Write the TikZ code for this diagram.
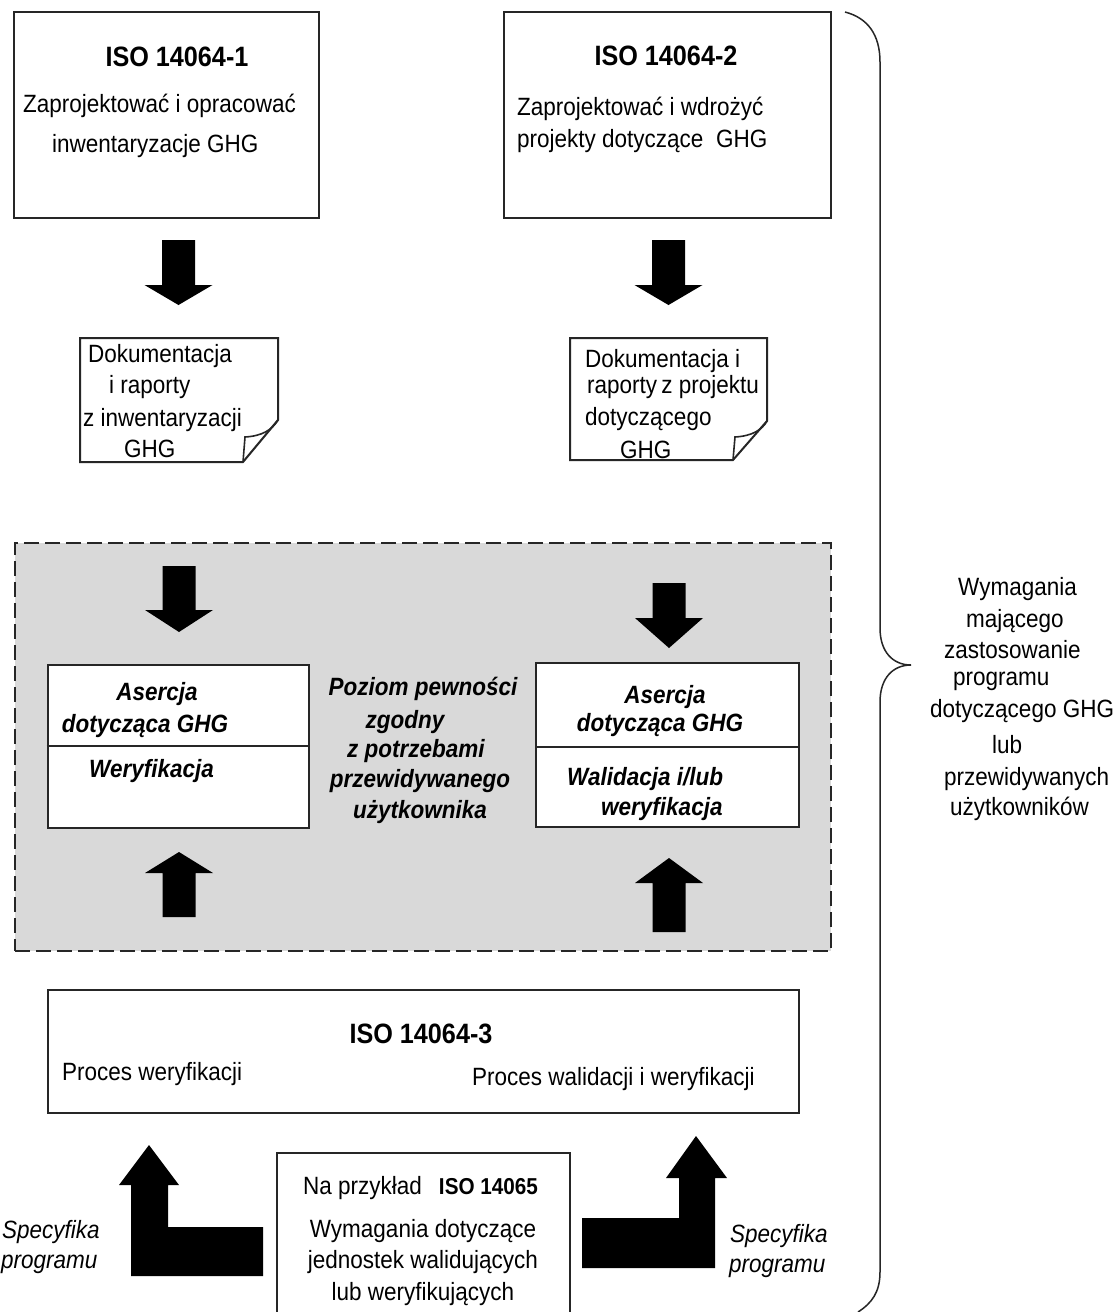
\documentclass[tikz,border=0pt]{standalone}
\usepackage{fontspec}
\setmainfont{Liberation Sans}[FakeStretch=0.9]
\tikzset{
  box/.style={draw=black!85, line width=2pt, fill=white, inner sep=0pt},
  docline/.style={draw=black!85, line width=2pt, fill=white, line join=miter},
  reg/.style={font=\fontsize{25}{32}\selectfont, inner sep=0pt},
  ttl/.style={font=\fontsize{28}{34}\selectfont\bfseries, inner sep=0pt},
  bi/.style={font=\fontsize{25}{32}\selectfont\bfseries\itshape, inner sep=0pt},
  itx/.style={font=\fontsize{25}{32}\selectfont\itshape, inner sep=0pt},
  pics/blk/.style n args={3}{code={
    \fill[black] (-#1,0) -- (#1,0) -- (#1,#2) -- (34,#2) -- (0,#3) -- (-34,#2) -- (-#1,#2) -- cycle;}},
}
\begin{document}
\begin{tikzpicture}[x=1pt,y=-1pt]
\useasboundingbox (0,0) rectangle (1119,1312);
\clip (0,0) rectangle (1119,1312);
\fill[white] (0,0) rectangle (1119,1312);

% gray dashed region
\node[draw=black!85, fill=black!15, line width=2.5pt, dash pattern=on 15pt off 6pt,
      minimum width=816pt, minimum height=408pt, inner sep=0pt] (g) at (423,747) {};

% top boxes
\node[box, minimum width=305pt, minimum height=206pt] (b1) at (166.5,115) {};
\node[ttl, anchor=base] (t1) at (177,66) {ISO 14064-1};
\node[reg, anchor=base west] (t1a) at (23,112) {Zaprojektować i opracować};
\node[reg, anchor=base west] (t1b) at (52,152) {inwentaryzacje GHG};

\node[box, minimum width=327pt, minimum height=206pt] (b2) at (667.5,115) {};
\node[ttl, anchor=base] (t2) at (666,65) {ISO 14064-2};
\node[reg, anchor=base west] (t2a) at (517,115) {Zaprojektować i wdrożyć};
\node[reg, anchor=base west] (t2b) at (517,147) {projekty dotyczące\ \ GHG};

% arrows top
\coordinate (a1) at (178.5,240);
\coordinate (a2) at (668.5,240);
\pic at (a1) {blk={16.5}{45}{65}};
\pic at (a2) {blk={16.5}{45}{65}};

% documents
\draw[docline] (80,338) -- (278,338) -- (278,420) -- (243,462) -- (80,462) -- cycle;
\draw[draw=black!85, line width=1.6pt] (243,462) -- (245,437) .. controls (262,436) and (272,430) .. (278,420);
\node[reg, anchor=base west] (d1a) at (88,362) {Dokumentacja};
\node[reg, anchor=base west] (d1b) at (109,393) {i raporty};
\node[reg, anchor=base west] (d1c) at (83,426) {z inwentaryzacji};
\node[reg, anchor=base west] (d1d) at (124,457) {GHG};

\draw[docline] (570,338) -- (767,338) -- (767,421) -- (733,460) -- (570,460) -- cycle;
\draw[draw=black!85, line width=1.6pt] (733,460) -- (735,437) .. controls (752,436) and (762,430) .. (767,421);
\node[reg, anchor=base west] (d2a) at (585,367) {Dokumentacja i};
\node[reg, anchor=base west] (d2b) at (587,393) {raporty\hspace{-2pt} z projektu};
\node[reg, anchor=base west] (d2c) at (585,425) {dotyczącego};
\node[reg, anchor=base west] (d2d) at (620,458) {GHG};

% arrows in gray region
\coordinate (a3) at (179,566);
\coordinate (a4) at (669,583);
\coordinate (a5) at (179,917);
\coordinate (a6) at (669,932);
\pic at (a3) {blk={16.5}{44}{66}};
\pic at (a4) {blk={16.5}{35}{65}};
\pic at (a5) {blk={16.5}{-44}{-65}};
\pic at (a6) {blk={16.5}{-49}{-74}};

% middle boxes
\node[box, minimum width=261.5pt, minimum height=163pt] (m1) at (178.25,746.5) {};
\draw[draw=black!85, line width=2pt] (m1.west |- 0,746) -- (m1.east |- 0,746);
\node[bi, anchor=base] (m1a) at (157,700) {Asercja};
\node[bi, anchor=base] (m1b) at (145,732) {dotycząca GHG};
\node[bi, anchor=base west] (m1c) at (89,777) {Weryfikacja};

\node[box, minimum width=263pt, minimum height=164pt] (m2) at (667.5,745) {};
\draw[draw=black!85, line width=2pt] (m2.west |- 0,747) -- (m2.east |- 0,747);
\node[bi, anchor=base] (m2a) at (665,703) {Asercja};
\node[bi, anchor=base] (m2b) at (660,731) {dotycząca GHG};
\node[bi, anchor=base west] (m2c) at (567,785) {Walidacja i/lub};
\node[bi, anchor=base west] (m2d) at (601,815) {weryfikacja};

\node[bi, anchor=base] (c1) at (423,695) {Poziom pewności};
\node[bi, anchor=base] (c2) at (405,728) {zgodny};
\node[bi, anchor=base] (c3) at (416,757) {z potrzebami};
\node[bi, anchor=base] (c4) at (420,787) {przewidywanego};
\node[bi, anchor=base] (c5) at (420,818) {użytkownika};

% ISO 14064-3
\node[box, minimum width=751.5pt, minimum height=123pt] (b3) at (423.25,1051.5) {};
\node[ttl, anchor=base] (t3) at (421,1043) {ISO 14064-3};
\node[reg, anchor=base west] (t3a) at (62,1080) {Proces weryfikacji};
\node[reg, anchor=base east] (t3b) at (755,1085) {Proces walidacji i weryfikacji};

% bottom center box
\node[box, minimum width=293pt, minimum height=180pt] (b4) at (423.5,1243) {};
\node[reg, anchor=base west] (b4a) at (303,1194) {Na przykład\hspace{17pt}{\fontsize{23}{28}\selectfont\bfseries ISO 14065}};
\node[reg, anchor=base] (b4b) at (423,1237) {Wymagania dotyczące};
\node[reg, anchor=base] (b4c) at (423,1268) {jednostek walidujących};
\node[reg, anchor=base] (b4d) at (423,1300) {lub weryfikujących};

% L arrows
\coordinate (la) at (149,1145);
\coordinate (ra) at (696,1136);
\fill[black] (131,1276) -- (263,1276) -- (263,1227) -- (168,1227) -- (168,1185) -- (179,1185)
   -- (la) -- (119,1185) -- (131,1185) -- cycle;
\fill[black] (582,1268) -- (715,1268) -- (715,1178) -- (727,1178) -- (ra) -- (666,1178)
   -- (679,1178) -- (679,1218) -- (582,1218) -- cycle;

\node[itx, anchor=base west] (s1) at (2,1238) {Specyfika};
\node[itx, anchor=base west] (s2) at (1,1268) {programu};
\node[itx, anchor=base west] (s3) at (730,1242) {Specyfika};
\node[itx, anchor=base west] (s4) at (729,1272) {programu};

% brace
\draw[line width=1.5pt, black!85] (845,12) .. controls (868,18) and (880,35) .. (880,62)
  -- (880,628) .. controls (880,652) and (893,665) .. (911,665)
  .. controls (893,665) and (880,678) .. (880,702)
  -- (880,1272) .. controls (880,1292) and (872,1303) .. (858,1312);

% right text
\node[reg, anchor=base west] (r1) at (958,595) {Wymagania};
\node[reg, anchor=base west] (r2) at (966,627) {mającego};
\node[reg, anchor=base west] (r3) at (944,658) {zastosowanie};
\node[reg, anchor=base west] (r4) at (953,685) {programu};
\node[reg, anchor=base west] (r5) at (930,717) {dotyczącego GHG};
\node[reg, anchor=base west] (r6) at (992,753) {lub};
\node[reg, anchor=base west] (r7) at (944,785) {przewidywanych};
\node[reg, anchor=base west] (r8) at (950,815) {użytkowników};
\end{tikzpicture}
\end{document}
